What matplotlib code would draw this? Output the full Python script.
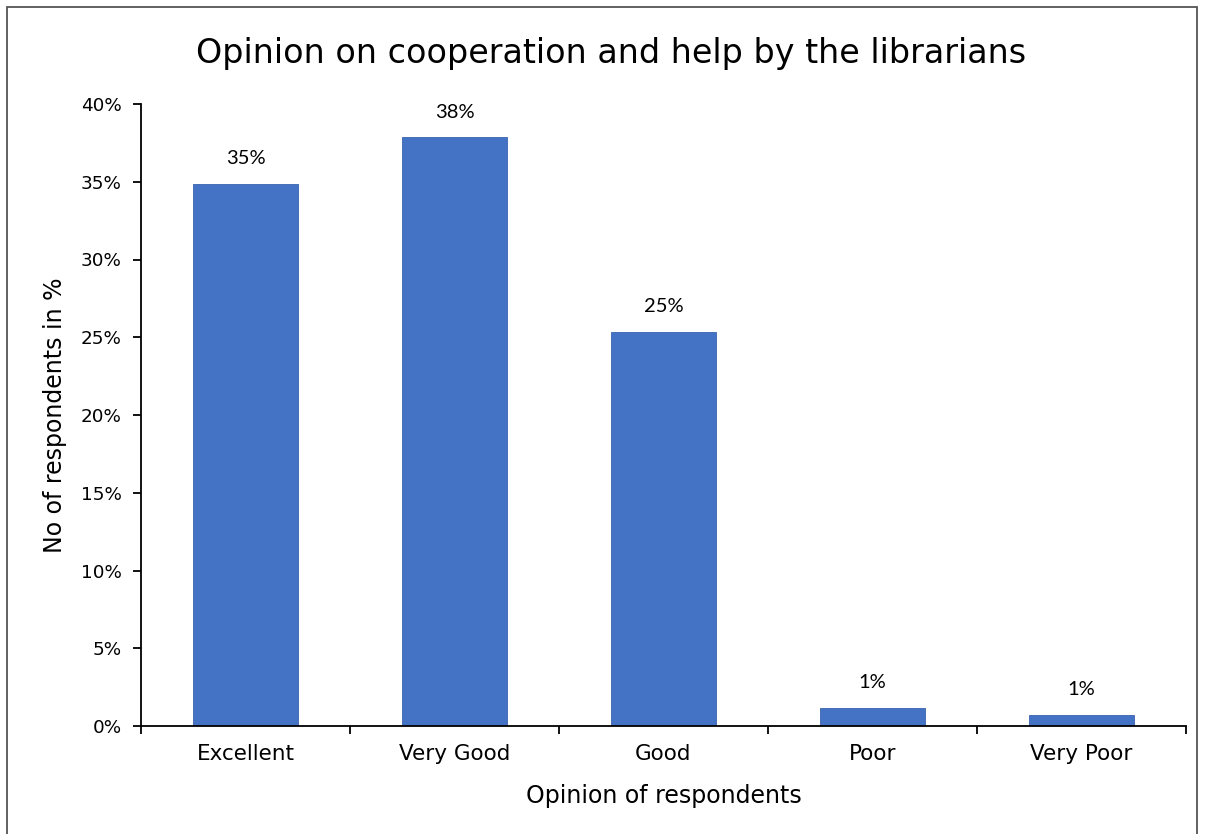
import matplotlib.pyplot as plt
from matplotlib.patches import Rectangle
from matplotlib.ticker import PercentFormatter, FixedLocator

categories = ['Excellent', 'Very Good', 'Good', 'Poor', 'Very Poor']
values = [34.86, 37.86, 25.36, 1.18, 0.71]
y_ticks = [0, 5, 10, 15, 20, 25, 30, 35, 40]

plt.rcParams['font.family'] = ['DejaVu Sans']

fig = plt.figure(figsize=(12.05, 8.34), dpi=100)
ax = fig.add_axes([141 / 1205, 1 - 726 / 834, (1186 - 141) / 1205, (726 - 104) / 834])

x = list(range(len(categories)))
ax.bar(x, values, width=0.5, color='#4472C4', edgecolor='#3a62ad', linewidth=0.6)

for xi, v in zip(x, values):
    ax.annotate(f'{v:.0f}%', (xi, v), xytext=(0, 12), textcoords='offset points',
                ha='center', va='bottom', fontsize=14.5, family='Lato')

ax.set_xlim(-0.5, len(categories) - 0.5)
ax.set_ylim(0, 40)
ax.set_yticks(y_ticks)
ax.yaxis.set_major_formatter(PercentFormatter(decimals=0))
ax.set_xticks(x)
ax.set_xticklabels(categories, fontsize=15.5)
ax.xaxis.set_minor_locator(FixedLocator([i - 0.5 for i in range(len(categories) + 1)]))
ax.tick_params(axis='x', which='major', length=0, pad=13)
ax.tick_params(axis='x', which='minor', length=6, width=1.3, direction='out')
ax.tick_params(axis='y', length=6, width=1.3, labelsize=13.2, pad=8)

for s in ['top', 'right']:
    ax.spines[s].set_visible(False)
for s in ['left', 'bottom']:
    ax.spines[s].set_linewidth(1.3)

ax.set_xlabel('Opinion of respondents', fontsize=17, labelpad=14)
ax.set_ylabel('No of respondents in %', fontsize=17)
ax.yaxis.set_label_coords(-0.071, 0.5)
fig.text(0.507, 1 - 53 / 834, 'Opinion on cooperation and help by the librarians',
         fontsize=24, ha='center', va='center')

# chart area frame
fig.patches.append(Rectangle((7 / 1205, -0.05), (1197 - 7) / 1205, 1.05 - 7 / 834,
                             transform=fig.transFigure, fill=False,
                             edgecolor='#555555', linewidth=1.3))

fig.savefig('out.png', dpi=100)
